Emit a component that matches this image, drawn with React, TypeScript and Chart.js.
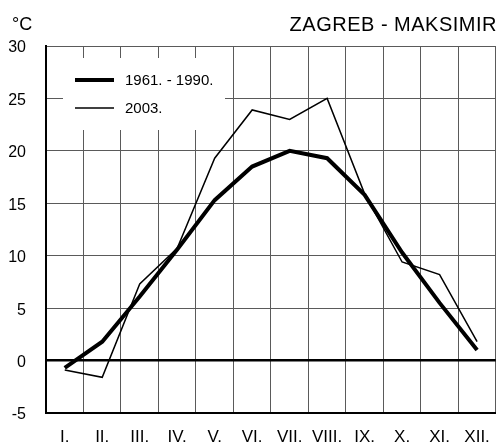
import React, { useEffect, useRef } from "react";
import { Chart, registerables } from "chart.js";

Chart.register(...registerables);

const months = ["I.", "II.", "III.", "IV.", "V.", "VI.", "VII.", "VIII.", "IX.", "X.", "XI.", "XII."];
const normal1961_1990 = [-0.7, 1.8, 6.1, 10.6, 15.3, 18.5, 20.0, 19.3, 15.8, 10.3, 5.5, 1.0];
const year2003 = [-0.9, -1.6, 7.3, 10.7, 19.3, 23.9, 23.0, 25.0, 15.9, 9.4, 8.2, 1.8];
const seriesLabels = ["1961. - 1990.", "2003."];
const yMin = -5;
const yMax = 30;
const yStep = 5;
const title = "ZAGREB - MAKSIMIR";
const unit = "°C";

const FONT = "'Liberation Sans', Arial, sans-serif";

const overlayPlugin = {
  id: "overlay",
  afterDraw(chart: any) {
    const ctx = chart.ctx;
    ctx.save();
    // title
    ctx.fillStyle = "#000";
    ctx.font = `20px ${FONT}`;
    ctx.textBaseline = "alphabetic";
    ctx.textAlign = "right";
    try { (ctx as any).letterSpacing = "0.5px"; } catch (e) {}
    ctx.fillText(title, 497, 31);
    try { (ctx as any).letterSpacing = "0px"; } catch (e) {}
    ctx.textAlign = "left";
    ctx.font = `18px ${FONT}`;
    ctx.fillText(unit, 12, 30);

    // legend box
    ctx.fillStyle = "#fff";
    ctx.fillRect(63, 58, 162, 72);
    const items = chart.data.datasets;
    const rows = [80, 108];
    items.forEach((ds: any, i: number) => {
      const y = rows[i];
      ctx.strokeStyle = ds.borderColor;
      ctx.lineWidth = ds.borderWidth;
      ctx.beginPath();
      ctx.moveTo(75, y);
      ctx.lineTo(114, y);
      ctx.stroke();
      ctx.fillStyle = "#000";
      ctx.font = `15px ${FONT}`;
      ctx.textBaseline = "middle";
      ctx.textAlign = "left";
      ctx.fillText(ds.label, 125, y + 1);
    });
    ctx.restore();
  },
};

export default function App() {
  const ref = useRef<HTMLCanvasElement | null>(null);
  useEffect(() => {
    if (!ref.current) return;
    const chart = new Chart(ref.current, {
      type: "line",
      data: {
        labels: months,
        datasets: [
          {
            label: seriesLabels[0],
            data: normal1961_1990,
            borderColor: "#000",
            borderWidth: 4,
            pointRadius: 0,
            tension: 0,
            fill: false,
          },
          {
            label: seriesLabels[1],
            data: year2003,
            borderColor: "#000",
            borderWidth: 1.5,
            pointRadius: 0,
            tension: 0,
            fill: false,
          },
        ],
      },
      options: {
        animation: false,
        responsive: false,
        layout: { padding: { top: 46, right: 4, left: 0, bottom: 0 } },
        plugins: {
          legend: { display: false },
          tooltip: { enabled: false },
          title: { display: false },
        },
        scales: {
          x: {
            type: "category",
            offset: true,
            grid: {
              offset: true,
              color: "#5a5a5a",
              lineWidth: 1,
              drawTicks: false,
            },
            border: { display: true, color: "#000", width: 2 },
            ticks: {
              color: "#000",
              font: { family: FONT, size: 17 },
              padding: 14,
              maxRotation: 0,
              autoSkip: false,
            },
            afterFit: (scale: any) => {
              scale.height = 31;
            },
          },
          y: {
            min: yMin,
            max: yMax,
            grid: {
              color: (c: any) => (c.tick && c.tick.value === 0 ? "#000" : "#5a5a5a"),
              lineWidth: (c: any) => (c.tick && c.tick.value === 0 ? 2.5 : 1),
              drawTicks: false,
            },
            border: { display: true, color: "#000", width: 2 },
            ticks: {
              stepSize: yStep,
              color: "#000",
              font: { family: FONT, size: 16 },
              padding: 20,
              labelOffset: 2,
            },
            afterFit: (scale: any) => {
              scale.width = 46;
            },
          },
        },
      },
      plugins: [overlayPlugin],
    });
    return () => chart.destroy();
  }, []);
  return (
    <div style={{ position: "absolute", left: 0, top: 0, width: 504, height: 444, background: "#fff" }}>
      <canvas ref={ref} width={504} height={444} style={{ width: 504, height: 444, display: "block" }} />
    </div>
  );
}
